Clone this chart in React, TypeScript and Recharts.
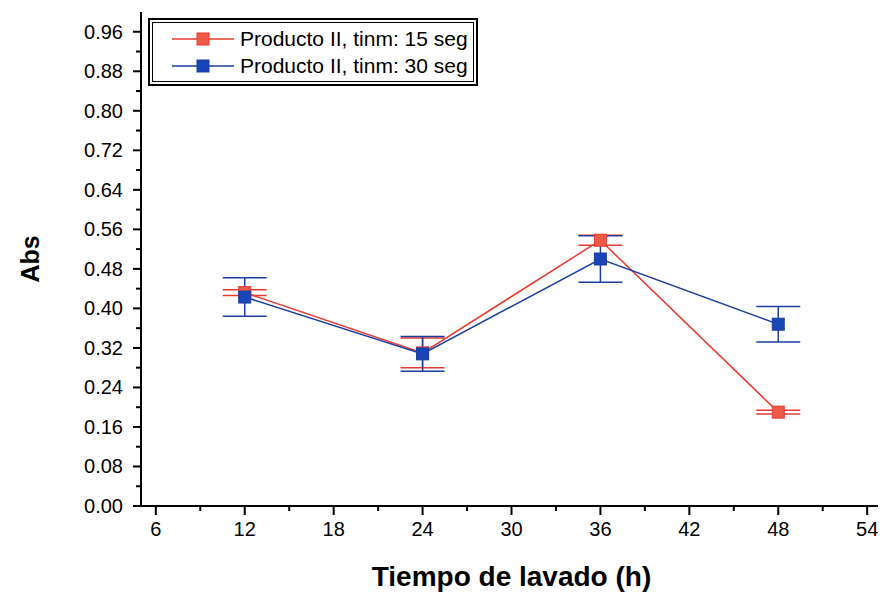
import React from 'react';
import { LineChart, Line, XAxis, YAxis, ErrorBar } from 'recharts';

// Tiempo de lavado (h)
const hours = [12, 24, 36, 48];
// Producto II, tinm: 15 seg
const abs15 = [0.432, 0.31, 0.538, 0.19];
const err15 = [0.006, 0.03, 0.01, 0.004];
// Producto II, tinm: 30 seg
const abs30 = [0.423, 0.308, 0.5, 0.368];
const err30 = [0.039, 0.035, 0.047, 0.036];

const xTicks = [6, 9, 12, 15, 18, 21, 24, 27, 30, 33, 36, 39, 42, 45, 48, 51, 54];
const yTicks = [0, 0.04, 0.08, 0.12, 0.16, 0.2, 0.24, 0.28, 0.32, 0.36, 0.4, 0.44, 0.48, 0.52, 0.56, 0.6, 0.64, 0.68, 0.72, 0.76, 0.8, 0.84, 0.88, 0.92, 0.96];

const RED = '#e83a30';
const BLUE = '#1c3f9e';
const FONT = "'Liberation Sans', Arial, Helvetica, sans-serif";

const data = hours.map((h, i) => ({
  h,
  abs15: abs15[i],
  err15: err15[i],
  abs30: abs30[i],
  err30: err30[i],
}));

const series = [
  { key: 'abs15', err: 'err15', name: 'Producto II, tinm: 15 seg', color: RED, fill: '#ee5a48' },
  { key: 'abs30', err: 'err30', name: 'Producto II, tinm: 30 seg', color: BLUE, fill: '#1845b8' },
];

const YTick = (props: any) => {
  const { x, y, payload } = props;
  const major = Math.round(payload.value * 100) % 8 === 0;
  const len = major ? 8 : 5;
  return (
    <g>
      <line x1={x - len} x2={x} y1={y} y2={y} stroke="#000" strokeWidth={2} />
      {major && (
        <text x={x - 18} y={y} dy={7} textAnchor="end" fontSize={20} fontFamily={FONT} fill="#000">
          {payload.value.toFixed(2)}
        </text>
      )}
    </g>
  );
};

const XTick = (props: any) => {
  const { x, y, payload } = props;
  const major = payload.value % 6 === 0;
  const len = major ? 9 : 5;
  return (
    <g>
      <line x1={x} x2={x} y1={y} y2={y + len} stroke="#000" strokeWidth={2} />
      {major && (
        <text x={x} y={y + 30} textAnchor="middle" fontSize={20} fontFamily={FONT} fill="#000">
          {payload.value}
        </text>
      )}
    </g>
  );
};

const squareDot = (fill: string, stroke: string) => (props: any) => {
  const { cx, cy, index } = props;
  if (cx == null || cy == null) return <g key={index} />;
  return <rect key={index} x={cx - 6} y={cy - 6} width={12} height={12} fill={fill} stroke={stroke} strokeWidth={1} />;
};

const LegendBox = () => (
  <div
    style={{
      position: 'absolute',
      top: 10,
      left: 140,
      border: '2px solid #000',
      outline: '1px solid #000',
      outlineOffset: '-5px',
      background: '#fff',
      width: 330,
      padding: '5px 0 5px 0',
      fontFamily: FONT,
      fontSize: 21,
      color: '#000',
      boxSizing: 'border-box',
    }}
  >
    {series.map((s) => (
      <div key={s.key} style={{ display: 'flex', alignItems: 'center', height: 27, whiteSpace: 'nowrap' }}>
        <svg width={90} height={20} style={{ flex: 'none' }}>
          <line x1={22} x2={84} y1={10} y2={10} stroke={s.color} strokeWidth={1.5} />
          <rect x={47} y={4} width={12} height={12} fill={s.fill} stroke={s.color} />
        </svg>
        <span>{s.name}</span>
      </div>
    ))}
  </div>
);

export default function App() {
  return (
    <div style={{ position: 'relative', width: 878, height: 586 }}>
      <LineChart width={878} height={586} data={data} margin={{ top: 4, right: 4, bottom: 8, left: 0 }}>
        <XAxis
          dataKey="h"
          type="number"
          domain={[5, 55]}
          ticks={xTicks}
          interval={0}
          tickSize={0}
          tickMargin={0}
          tickLine={false}
          tick={<XTick />}
          height={80}
          axisLine={{ stroke: '#000', strokeWidth: 2 }}
          label={{
            content: (p: any) => (
              <text
                x={p.viewBox.x + p.viewBox.width / 2}
                y={p.viewBox.y + 80}
                textAnchor="middle"
                fontSize={28}
                fontWeight="bold"
                fontFamily={FONT}
                fill="#000"
              >
                Tiempo de lavado (h)
              </text>
            ),
          }}
        />
        <XAxis xAxisId="top" orientation="top" type="number" domain={[5, 55]} tick={false} tickLine={false} height={0} axisLine={{ stroke: '#000', strokeWidth: 2 }} />
        <YAxis
          type="number"
          domain={[0, 1]}
          ticks={yTicks}
          interval={0}
          tickSize={0}
          tickMargin={0}
          tickLine={false}
          tick={<YTick />}
          width={133}
          axisLine={{ stroke: '#000', strokeWidth: 2 }}
          label={{
            content: (p: any) => {
              const cx = p.viewBox.x + 22;
              const cy = p.viewBox.y + p.viewBox.height / 2;
              return (
                <text
                  x={cx}
                  y={cy}
                  transform={`rotate(-90 ${cx} ${cy})`}
                  textAnchor="middle"
                  dominantBaseline="central"
                  fontSize={25}
                  fontWeight="bold"
                  fontFamily={FONT}
                  fill="#000"
                >
                  Abs
                </text>
              );
            },
          }}
        />
        <YAxis yAxisId="right" orientation="right" type="number" domain={[0, 1]} tick={false} tickLine={false} width={0} axisLine={{ stroke: '#000', strokeWidth: 2 }} />
        {series.map((s) => (
          <Line
            key={s.key}
            dataKey={s.key}
            name={s.name}
            type="linear"
            stroke={s.color}
            strokeWidth={1.5}
            dot={squareDot(s.fill, s.color)}
            activeDot={false}
            isAnimationActive={false}
          >
            <ErrorBar dataKey={s.err} direction="y" width={22} stroke={s.color} strokeWidth={1.5} isAnimationActive={false} />
          </Line>
        ))}
      </LineChart>
      <LegendBox />
    </div>
  );
}
